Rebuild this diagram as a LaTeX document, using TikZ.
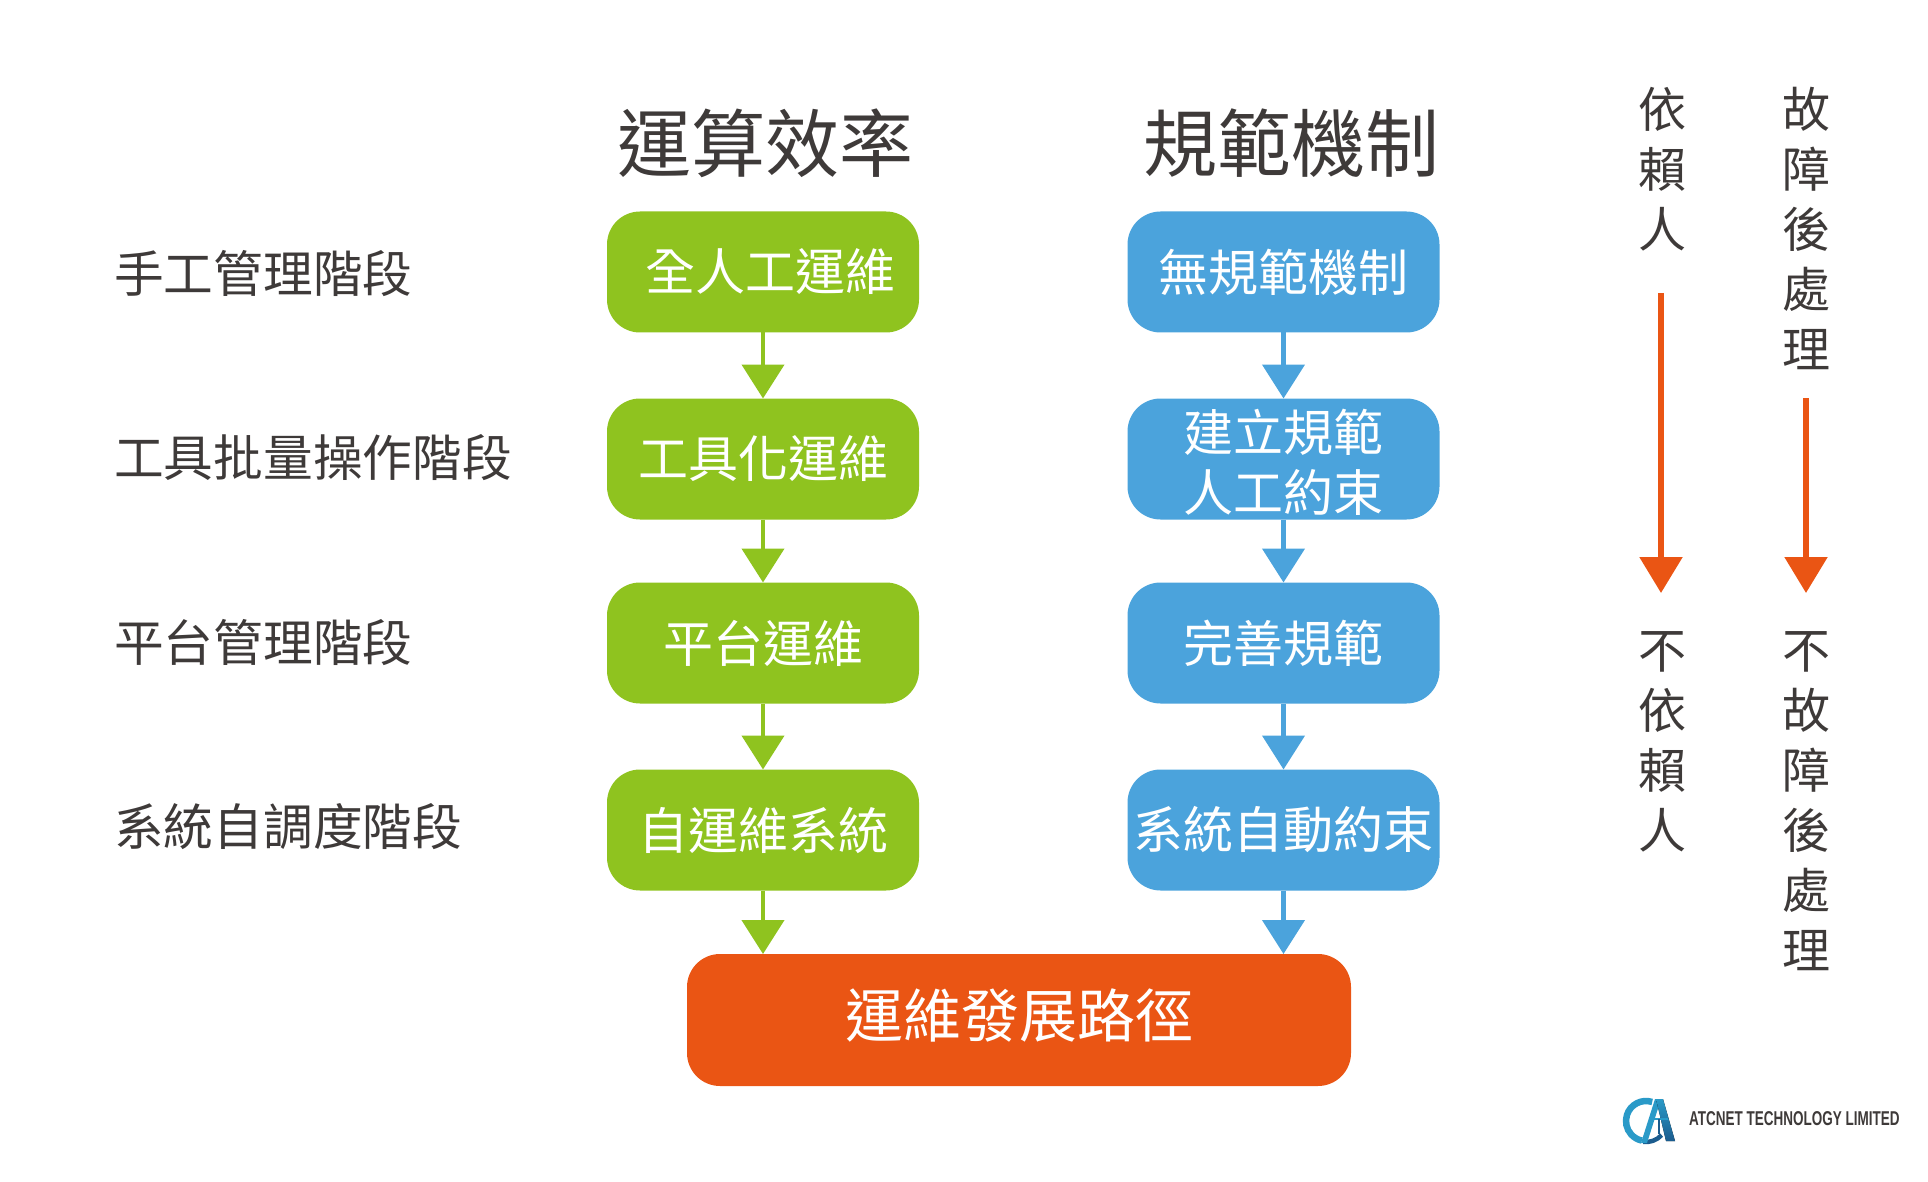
\documentclass[tikz,border=0pt]{standalone}
\usepackage{fontspec}
\usepackage{xcolor}
\setmainfont{Noto Sans CJK TC}
\newfontfamily\logofont{Liberation Sans}
\usetikzlibrary{arrows.meta,positioning}
\definecolor{leafgreen}{HTML}{8FC31F}
\definecolor{skyblue}{HTML}{4BA3DC}
\definecolor{rustorange}{HTML}{EA5514}
\definecolor{inkgray}{HTML}{3E3A39}
\definecolor{logolight}{HTML}{2A9AC8}
\definecolor{logodark}{HTML}{1B5C8E}
\tikzset{
  stagebox/.style={rounded corners=33pt,minimum width=312pt,minimum height=121pt,inner sep=0pt,outer sep=0pt,
    text=white,align=center,font=\fontsize{50}{60}\selectfont},
  greenbox/.style={stagebox,fill=leafgreen},
  bluebox/.style={stagebox,fill=skyblue},
  rowlabel/.style={text=inkgray,anchor=west,inner sep=0pt,font=\fontsize{49.7}{60}\selectfont},
  headlabel/.style={text=inkgray,inner sep=0pt,font=\fontsize{74}{80}\selectfont},
  sidelabel/.style={text=inkgray,inner sep=0pt,align=center,font=\fontsize{48}{60}\selectfont},
  stagearrow/.style={line width=4.5pt,-{Triangle[width=42pt,length=34pt]}},
  sidearrow/.style={rustorange,line width=5.5pt,-{Triangle[width=42pt,length=36pt]}},
}
\begin{document}
\begin{tikzpicture}[x=1pt,y=-1pt]
  \useasboundingbox (0,0) rectangle (1928,1182);
  % column heads
  \node[headlabel] (headeff) at (765,143) {運算效率};
  \node[headlabel] (headrule) at (1291,143) {規範機制};
  % row labels
  \node[rowlabel] (rowa) at (114,274) {手工管理階段};
  \node[rowlabel] (rowb) at (114,458) {工具批量操作階段};
  \node[rowlabel] (rowc) at (114,643) {平台管理階段};
  \node[rowlabel] (rowd) at (114,827) {系統自調度階段};
  % green column
  \node[greenbox] (greena) at (763,272) {\hspace*{14pt}全人工運維};
  \node[greenbox] (greenb) at (763,459) {工具化運維};
  \node[greenbox] (greenc) at (763,643) {平台運維};
  \node[greenbox] (greend) at (763,830) {自運維系統};
  % blue column
  \node[bluebox] (bluea) at (1283.5,272) {無規範機制};
  \node[bluebox] (blueb) at (1283.5,459) {\rule{0pt}{49pt}建立規範\\人工約束};
  \node[bluebox] (bluec) at (1283.5,643) {完善規範};
  \node[bluebox] (blued) at (1283.5,830) {系統自動約束};
  % bottom box
  \node[stagebox,fill=rustorange,minimum width=664pt,minimum height=132pt,text depth=14pt,font=\fontsize{58}{60}\selectfont] (devpath) at (1019,1020) {運維發展路徑};
  % arrows
  \draw[stagearrow,leafgreen] (greena) -- (greenb);
  \draw[stagearrow,leafgreen] (greenb) -- (greenc);
  \draw[stagearrow,leafgreen] (greenc) -- (greend);
  \draw[stagearrow,leafgreen] (greend.south) -- (greend.south |- devpath.north);
  \draw[stagearrow,skyblue] (bluea) -- (blueb);
  \draw[stagearrow,skyblue] (blueb) -- (bluec);
  \draw[stagearrow,skyblue] (bluec) -- (blued);
  \draw[stagearrow,skyblue] (blued.south) -- (blued.south |- devpath.north);
  % right side
  \node[sidelabel,anchor=north] (relyon) at (1662,87) {依\\賴\\人};
  \node[sidelabel,anchor=north] (relyoff) at (1662,631) {不\\依\\賴\\人};
  \node[sidelabel,anchor=north] (faulton) at (1806,87) {故\\障\\後\\處\\理};
  \node[sidelabel,anchor=north] (faultoff) at (1806,631) {不\\故\\障\\後\\處\\理};
  \coordinate (relystart) at (1661,293);
  \coordinate (relyend) at (1661,593);
  \coordinate (faultstart) at (1806,398);
  \coordinate (faultend) at (1806,593);
  \draw[sidearrow] (relystart) -- (relyend);
  \draw[sidearrow] (faultstart) -- (faultend);
  % logo
  \draw[logolight,line width=6.5pt] (1646,1121) ++(-72:20) arc[start angle=-72,end angle=-258,radius=20];
  \draw[logodark,line width=4.5pt] (1646,1121) ++(-262:21) arc[start angle=-262,end angle=-318,radius=21];
  \fill[logolight] (1655,1099) -- (1661,1099) -- (1647,1143) -- (1641,1143) -- cycle;
  \fill[top color=logolight,bottom color=logodark] (1656,1099) -- (1663,1099) -- (1675,1141) -- (1666,1141) -- cycle;
  \draw[logolight,line width=2.5pt] (1652,1119) -- (1668,1119);
  \draw[logodark,line width=2.5pt] (1659,1119) -- (1659,1134);
  \node[text=inkgray,anchor=west,inner sep=0pt,xscale=0.675,font=\logofont\bfseries\fontsize{20}{20}\selectfont] (logotext) at (1689,1119) {ATCNET TECHNOLOGY LIMITED};
\end{tikzpicture}
\end{document}
